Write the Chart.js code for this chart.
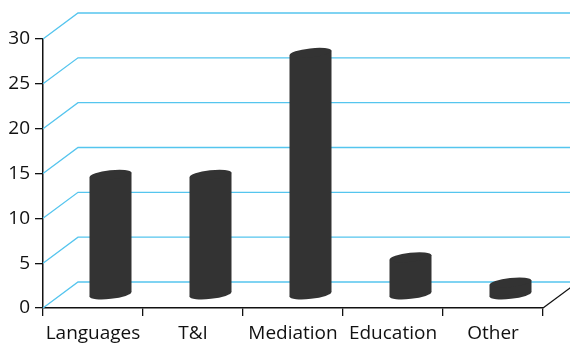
<!DOCTYPE html>
<html>
<head>
<meta charset="utf-8">
<script src="https://cdn.jsdelivr.net/npm/chart.js@4/dist/chart.umd.min.js"></script>
<style>
  html, body { margin: 0; padding: 0; background: #fff; }
  #wrap { width: 570px; height: 344px; }
</style>
</head>
<body>
<div id="wrap"><canvas id="chart" width="570" height="344"></canvas></div>
<script>
// chart data
const categories = ["Languages", "T&I", "Mediation", "Education", "Other"];
const values = [13.4, 13.4, 27.0, 4.2, 1.4];
const yTicks = [0, 5, 10, 15, 20, 25, 30];

// fake 3d depth of the back wall
const DX = 35, DY = -26;
const gridBlue = "#55c5ee";
const barGrey = "#333333";

// back wall: slanted lines from the front axis then flat lines at the back
const wallPlugin = {
    id: "wall",
    beforeDatasetsDraw(chart) {
        const { ctx, chartArea, scales } = chart;
        const y = scales.y;
        ctx.save();
        ctx.strokeStyle = gridBlue;
        ctx.lineWidth = 1.3;
        yTicks.forEach(v => {
            const py = y.getPixelForValue(v);
            ctx.beginPath();
            ctx.moveTo(chartArea.left, py);
            ctx.lineTo(chartArea.left + DX, py + DY);
            ctx.lineTo(chart.width, py + DY);
            ctx.stroke();
        });
        // floor edge on the right
        ctx.strokeStyle = "#111";
        ctx.lineWidth = 1.3;
        ctx.beginPath();
        ctx.moveTo(chartArea.right, chartArea.bottom);
        ctx.lineTo(chartArea.right + DX, chartArea.bottom + DY);
        ctx.stroke();
        ctx.restore();
    },
    afterDatasetsDraw(chart) {
        const { ctx } = chart;
        const meta = chart.getDatasetMeta(0);
        ctx.save();
        ctx.fillStyle = barGrey;
        meta.data.forEach(bar => {
            const cx = bar.x + DX / 2;
            const top = bar.y + DY / 2;
            const bottom = bar.base + DY / 2;
            const r = bar.width / 2;
            const b = 4.5, rot = -0.11;
            ctx.beginPath();
            ctx.ellipse(cx, bottom, r, b, rot, 0, Math.PI * 2);
            ctx.fill();
            ctx.beginPath();
            ctx.moveTo(cx - r, top + r * Math.sin(-rot));
            ctx.lineTo(cx + r, top - r * Math.sin(-rot));
            ctx.lineTo(cx + r, bottom - r * Math.sin(-rot));
            ctx.lineTo(cx - r, bottom + r * Math.sin(-rot));
            ctx.closePath();
            ctx.fill();
            ctx.beginPath();
            ctx.ellipse(cx, top, r, b, rot, 0, Math.PI * 2);
            ctx.fill();
        });
        ctx.restore();
    }
};

const font = { family: "'Open Sans', 'Noto Sans', sans-serif", size: 19 };

new Chart(document.getElementById("chart"), {
    type: "bar",
    data: {
        labels: categories,
        datasets: [{
            data: values,
            backgroundColor: "rgba(0,0,0,0)",
            barPercentage: 0.42,
            categoryPercentage: 1
        }]
    },
    options: {
        responsive: false,
        devicePixelRatio: 1,
        animation: false,
        layout: { padding: { top: 39, right: 27, left: 0, bottom: 0 } },
        plugins: { legend: { display: false }, tooltip: { enabled: false } },
        scales: {
            x: {
                grid: { drawOnChartArea: false, color: "#111", tickLength: 8, lineWidth: 1.3 },
                border: { color: "#111", width: 1.5 },
                ticks: { color: "#111", font: font, padding: 6, maxRotation: 0 },
                afterFit(scale) { scale.height = 36; }
            },
            y: {
                min: 0,
                max: 30,
                grid: { drawOnChartArea: false, color: "#111", tickLength: 8, lineWidth: 1.3 },
                border: { color: "#111", width: 1.5 },
                ticks: {
                    stepSize: 5,
                    color: "#111",
                    font: font,
                    padding: 5,
                    callback: v => yTicks.includes(v) ? String(v) : ""
                },
                afterFit(scale) { scale.width = 43; }
            }
        }
    },
    plugins: [wallPlugin]
});
</script>
</body>
</html>
